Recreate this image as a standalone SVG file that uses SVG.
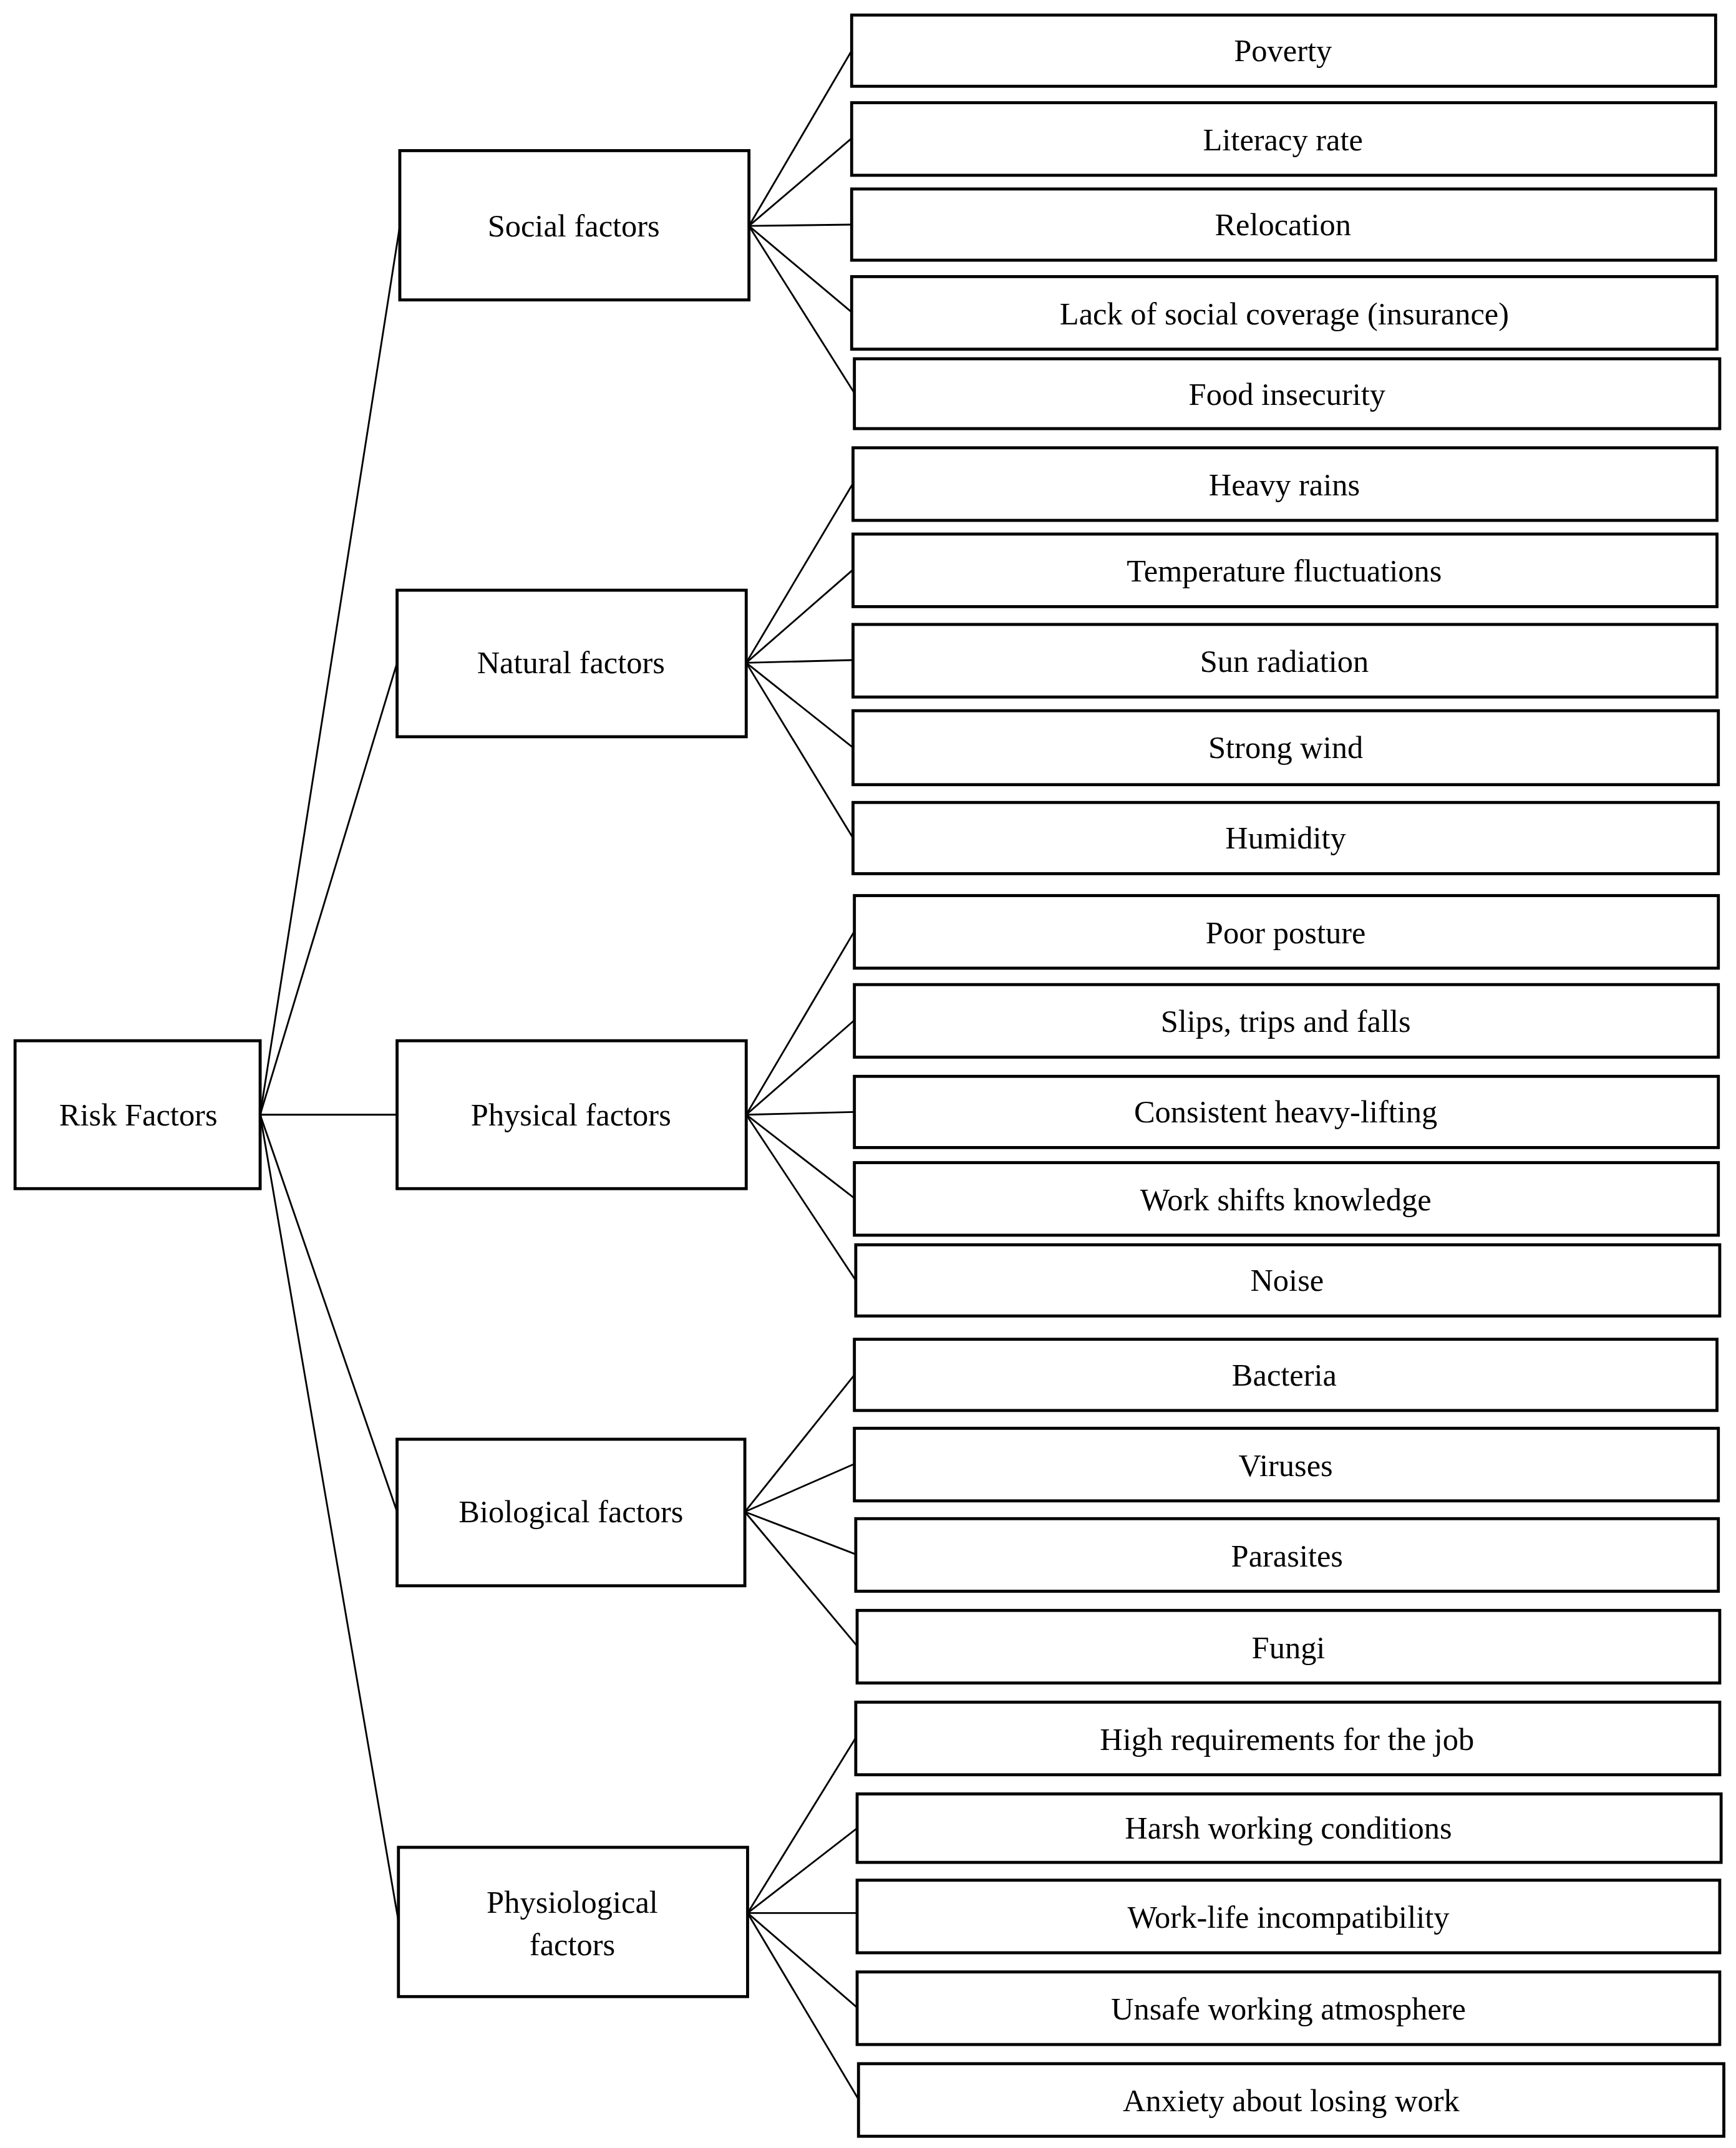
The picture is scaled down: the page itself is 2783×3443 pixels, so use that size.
<svg xmlns="http://www.w3.org/2000/svg" width="2783" height="3443" viewBox="0 0 2783 3443">
<style>
rect{fill:#fff;stroke:#000;stroke-width:2.2}
line{stroke:#000;stroke-width:1.3}
text{font-family:"Liberation Serif","DejaVu Serif",serif;font-size:23px;text-anchor:middle;dominant-baseline:central;fill:#000}
</style>
<rect x="0" y="0" width="2783" height="3443" style="stroke:none"/>
<g transform="scale(2.195)">
<g id="connectors">
<line x1="190" y1="814" x2="292" y2="165"/>
<line x1="190" y1="814" x2="290" y2="484"/>
<line x1="190" y1="814" x2="290" y2="814"/>
<line x1="190" y1="814" x2="290" y2="1104"/>
<line x1="190" y1="814" x2="291" y2="1403"/>
<line x1="547" y1="165" x2="622" y2="37"/>
<line x1="547" y1="165" x2="622" y2="101"/>
<line x1="547" y1="165" x2="622" y2="164"/>
<line x1="547" y1="165" x2="622" y2="228"/>
<line x1="547" y1="165" x2="624" y2="287"/>
<line x1="545" y1="484" x2="623" y2="353"/>
<line x1="545" y1="484" x2="623" y2="416"/>
<line x1="545" y1="484" x2="623" y2="482"/>
<line x1="545" y1="484" x2="623" y2="546"/>
<line x1="545" y1="484" x2="623" y2="612"/>
<line x1="545" y1="814" x2="624" y2="680"/>
<line x1="545" y1="814" x2="624" y2="745"/>
<line x1="545" y1="814" x2="624" y2="812"/>
<line x1="545" y1="814" x2="624" y2="875"/>
<line x1="545" y1="814" x2="625" y2="935"/>
<line x1="544" y1="1104" x2="624" y2="1004"/>
<line x1="544" y1="1104" x2="624" y2="1069"/>
<line x1="544" y1="1104" x2="625" y2="1135"/>
<line x1="544" y1="1104" x2="626" y2="1202"/>
<line x1="546" y1="1397" x2="625" y2="1269"/>
<line x1="546" y1="1397" x2="626" y2="1335"/>
<line x1="546" y1="1397" x2="626" y2="1397"/>
<line x1="546" y1="1397" x2="626" y2="1466"/>
<line x1="546" y1="1397" x2="627" y2="1533"/>
</g>
<g id="risk"><rect x="11" y="760" width="179" height="108"/><text x="101" y="814">Risk Factors</text></g>
<g id="social"><rect x="292" y="110" width="255" height="109"/><text x="419" y="165">Social factors</text></g>
<g id="natural"><rect x="290" y="431" width="255" height="107"/><text x="417" y="484">Natural factors</text></g>
<g id="physical"><rect x="290" y="760" width="255" height="108"/><text x="417" y="814">Physical factors</text></g>
<g id="biological"><rect x="290" y="1051" width="254" height="107"/><text x="417" y="1104">Biological factors</text></g>
<g id="physiological"><rect x="291" y="1349" width="255" height="109"/><text x="418" y="1389">Physiological</text><text x="418" y="1420">factors</text></g>
<g id="poverty"><rect x="622" y="11" width="631" height="52"/><text x="937" y="37">Poverty</text></g>
<g id="literacy"><rect x="622" y="75" width="631" height="53"/><text x="937" y="102">Literacy rate</text></g>
<g id="relocation"><rect x="622" y="138" width="631" height="52"/><text x="937" y="164">Relocation</text></g>
<g id="lack"><rect x="622" y="202" width="632" height="53"/><text x="938" y="229">Lack of social coverage (insurance)</text></g>
<g id="food"><rect x="624" y="262" width="632" height="51"/><text x="940" y="288">Food insecurity</text></g>
<g id="heavy"><rect x="623" y="327" width="631" height="53"/><text x="938" y="354">Heavy rains</text></g>
<g id="temp"><rect x="623" y="390" width="631" height="53"/><text x="938" y="417">Temperature fluctuations</text></g>
<g id="sun"><rect x="623" y="456" width="631" height="53"/><text x="938" y="483">Sun radiation</text></g>
<g id="wind"><rect x="623" y="519" width="632" height="54"/><text x="939" y="546">Strong wind</text></g>
<g id="humidity"><rect x="623" y="586" width="632" height="52"/><text x="939" y="612">Humidity</text></g>
<g id="posture"><rect x="624" y="654" width="631" height="53"/><text x="939" y="681">Poor posture</text></g>
<g id="slips"><rect x="624" y="719" width="631" height="53"/><text x="939" y="746">Slips, trips and falls</text></g>
<g id="lifting"><rect x="624" y="786" width="631" height="52"/><text x="939" y="812">Consistent heavy-lifting</text></g>
<g id="shifts"><rect x="624" y="849" width="631" height="53"/><text x="939" y="876">Work shifts knowledge</text></g>
<g id="noise"><rect x="625" y="909" width="631" height="52"/><text x="940" y="935">Noise</text></g>
<g id="bacteria"><rect x="624" y="978" width="630" height="52"/><text x="938" y="1004">Bacteria</text></g>
<g id="viruses"><rect x="624" y="1043" width="631" height="53"/><text x="939" y="1070">Viruses</text></g>
<g id="parasites"><rect x="625" y="1109" width="630" height="53"/><text x="940" y="1136">Parasites</text></g>
<g id="fungi"><rect x="626" y="1176" width="630" height="53"/><text x="941" y="1203">Fungi</text></g>
<g id="highreq"><rect x="625" y="1243" width="631" height="53"/><text x="940" y="1270">High requirements for the job</text></g>
<g id="harsh"><rect x="626" y="1310" width="631" height="50"/><text x="941" y="1335">Harsh working conditions</text></g>
<g id="worklife"><rect x="626" y="1373" width="630" height="53"/><text x="941" y="1400">Work-life incompatibility</text></g>
<g id="unsafe"><rect x="626" y="1440" width="630" height="53"/><text x="941" y="1467">Unsafe working atmosphere</text></g>
<g id="anxiety"><rect x="627" y="1507" width="632" height="53"/><text x="943" y="1534">Anxiety about losing work</text></g>
</g>
</svg>
